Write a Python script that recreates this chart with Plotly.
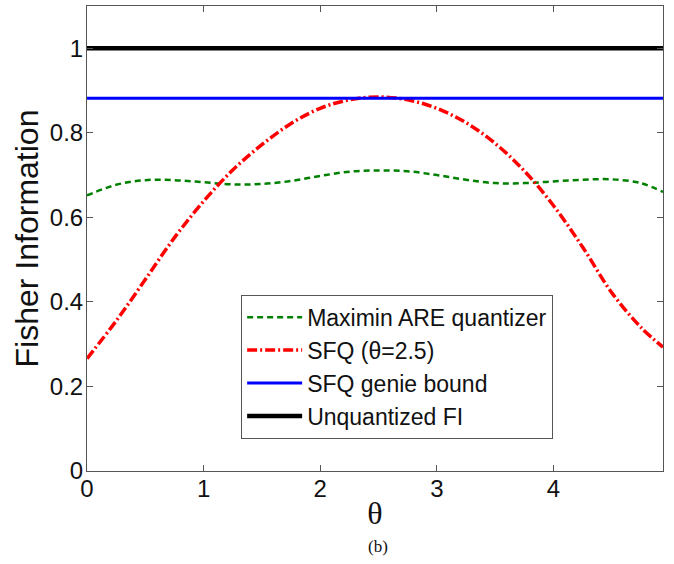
import plotly.graph_objects as go

# ---- data ----
theta = [0.0, 0.25, 0.5, 0.75, 1.0, 1.25, 1.5, 1.75, 2.0, 2.25, 2.5,
         2.75, 3.0, 3.25, 3.5, 3.75, 4.0, 4.25, 4.5, 4.75, 4.94]
maximin_are = [0.652, 0.677, 0.688, 0.688, 0.683, 0.678, 0.679, 0.686, 0.698, 0.708, 0.711,
               0.709, 0.700, 0.689, 0.681, 0.681, 0.685, 0.689, 0.690, 0.681, 0.660]
sfq_25 = [0.266, 0.355, 0.453, 0.552, 0.638, 0.712, 0.772, 0.822, 0.858, 0.878, 0.885,
          0.878, 0.858, 0.824, 0.775, 0.710, 0.628, 0.530, 0.422, 0.340, 0.293]
genie_bound = 0.882
unquantized_fi = 1.0

series_names = ["Maximin ARE quantizer", "SFQ (\u03b8=2.5)", "SFQ genie bound", "Unquantized FI"]
x_tick_vals = [0, 1, 2, 3, 4]
y_tick_vals = [0, 0.2, 0.4, 0.6, 0.8, 1]
y_tick_text = ["0", "0.2", "0.4", "0.6", "0.8", "1"]
x_range = [0, 4.94]
y_range = [0, 1.1]

SANS = "Liberation Sans, Arial, sans-serif"
SERIF = "Liberation Serif, Times New Roman, serif"
FRAME = "#555555"

fig = go.Figure()
fig.add_trace(go.Scatter(x=theta, y=maximin_are, mode="lines", name=series_names[0],
                         line=dict(color="#008000", width=2.5, dash="6px,4px", shape="spline")))
fig.add_trace(go.Scatter(x=theta, y=sfq_25, mode="lines", name=series_names[1],
                         line=dict(color="#ff0000", width=3.5, dash="10px,3px,2px,3px", shape="spline")))
fig.add_trace(go.Scatter(x=[theta[0], theta[-1]], y=[genie_bound, genie_bound], mode="lines",
                         name=series_names[2], line=dict(color="#0000ff", width=3)))
fig.add_trace(go.Scatter(x=[theta[0], theta[-1]], y=[unquantized_fi, unquantized_fi], mode="lines",
                         name=series_names[3], line=dict(color="#000000", width=4.5)))

axis_common = dict(showline=True, linecolor=FRAME, linewidth=1, mirror="ticks",
                   ticks="inside", ticklen=6, tickcolor=FRAME, showgrid=False,
                   zeroline=False, tickfont=dict(family=SANS, size=24, color="#111111"))

fig.update_xaxes(range=x_range, tickvals=x_tick_vals, automargin=False, ticklabelstandoff=-4,
                 title=dict(text="\u03b8", font=dict(family=SERIF, size=32, color="#111111"), standoff=0),
                 **axis_common)
fig.update_yaxes(range=y_range, tickvals=y_tick_vals, ticktext=y_tick_text, automargin=False,
                 ticklabelstandoff=-2,
                 title=dict(text="Fisher Information", font=dict(family=SANS, size=32, color="#111111"),
                            standoff=1),
                 **axis_common)

fig.add_annotation(text="(b)", xref="paper", yref="paper", x=0.505, y=-0.162,
                   showarrow=False, font=dict(family=SERIF, size=17, color="#111111"),
                   xanchor="center", yanchor="middle")

fig.update_layout(
    width=674, height=564,
    margin=dict(l=87, r=11, t=6, b=93),
    paper_bgcolor="white", plot_bgcolor="white",
    showlegend=True,
    legend=dict(x=0.2676, y=0.379, xanchor="left", yanchor="top",
                bgcolor="white", bordercolor=FRAME, borderwidth=1,
                font=dict(family=SANS, size=23, color="#111111"),
                traceorder="normal", itemwidth=55),
)

fig.write_html("out.html", config={"displayModeBar": False},
               post_script="document.body.style.margin='0';")
